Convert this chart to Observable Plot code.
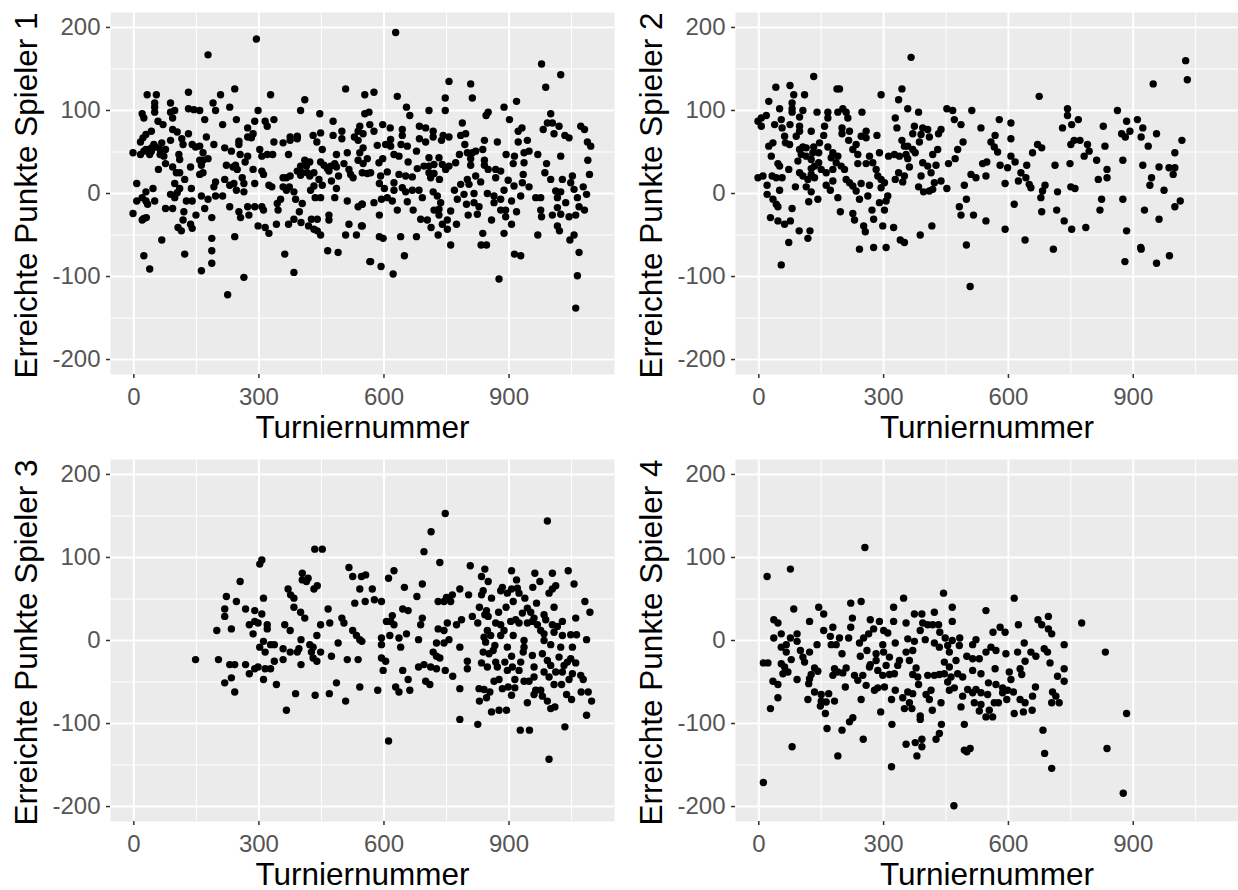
<!DOCTYPE html>
<html><head><meta charset="utf-8">
<script src="https://cdn.jsdelivr.net/npm/d3@7"></script>
<script src="https://cdn.jsdelivr.net/npm/@observablehq/plot@0.6"></script>
<style>
html,body{margin:0;padding:0;background:#fff}
#root{position:relative;width:1238px;height:890px;overflow:hidden}
#root>div{position:absolute}
svg{font-family:"Liberation Sans",Arial,sans-serif}
g[aria-label="x-axis tick label"],g[aria-label="y-axis tick label"]{font-size:24px;fill:#555}
g[aria-label="x-axis label"],g[aria-label="y-axis label"]{font-size:31.5px;fill:#000}
g[aria-label="y-axis label"]{translate:0px 2px}
</style></head><body><div id="root"></div>
<script>
const xTicks=[0,300,600,900];
const yTicks=[-200,-100,0,100,200];
const xMinor=[150,450,750,1050];
const yMinor=[-150,-50,50,150];
const xLabel="Turniernummer";
const yLabels=["Erreichte Punkte Spieler 1","Erreichte Punkte Spieler 2","Erreichte Punkte Spieler 3","Erreichte Punkte Spieler 4"];
const spieler1=[[294,186],[178,167],[32,119],[54,119],[131,122],[208,119],[242,126],[328,119],[410,113],[508,126],[554,119],[88,109],[50,109],[50,104],[50,98],[190,109],[196,100],[230,104],[298,100],[400,100],[446,96],[554,96],[564,98],[98,100],[88,98],[93,91],[131,102],[144,101],[158,100],[20,96],[24,91],[58,87],[70,83],[170,89],[246,89],[213,83],[290,87],[315,87],[320,81],[336,89],[478,87],[273,79],[42,75],[93,77],[104,74],[131,72],[29,71],[22,67],[16,62],[115,66],[88,64],[118,59],[174,68],[192,59],[67,61],[48,59],[42,55],[29,53],[140,59],[158,57],[148,56],[286,72],[273,68],[282,67],[252,63],[252,59],[218,55],[234,51],[302,53],[336,62],[358,61],[375,64],[375,68],[392,69],[392,66],[430,70],[448,73],[439,62],[452,53],[478,70],[499,75],[499,66],[542,81],[538,75],[529,68],[538,64],[550,72],[566,83],[550,55],[542,49],[512,49],[486,47],[-2,49],[16,47],[24,51],[38,47],[42,51],[52,56],[63,53],[76,53],[63,47],[72,45],[108,47],[110,41],[166,49],[178,42],[158,40],[166,40],[273,45],[267,38],[255,47],[307,45],[320,47],[333,47],[371,47],[76,36],[93,32],[59,29],[136,32],[162,34],[166,25],[158,23],[110,25],[102,25],[222,34],[244,34],[238,32],[248,29],[286,29],[307,27],[311,23],[410,40],[422,38],[400,33],[414,33],[392,27],[404,25],[416,25],[432,25],[400,22],[422,21],[448,38],[456,34],[464,30],[472,33],[482,36],[486,32],[468,27],[504,36],[516,29],[520,23],[526,19],[491,21],[474,15],[444,17],[452,10],[432,9],[424,4],[486,6],[538,40],[550,36],[548,25],[560,24],[568,25],[122,17],[98,12],[110,6],[104,1],[88,-1],[98,-5],[138,6],[7,12],[29,2],[46,6],[162,-3],[178,-7],[196,14],[192,8],[196,-3],[213,-3],[218,17],[230,10],[240,12],[246,4],[264,2],[260,19],[264,12],[290,12],[324,10],[331,8],[358,19],[375,21],[366,19],[358,8],[373,8],[366,4],[384,2],[388,-7],[352,-7],[344,-12],[346,-20],[404,-12],[397,-22],[435,-5],[448,-5],[482,-5],[512,-9],[538,-16],[547,-13],[7,-9],[20,-5],[29,-9],[33,-13],[50,-9],[76,-18],[93,-18],[126,-9],[140,-9],[-2,-24],[20,-32],[30,-29],[24,-30],[120,-22],[118,-32],[149,-26],[170,-18],[187,-29],[230,-16],[252,-22],[256,-29],[273,-16],[276,-26],[290,-16],[307,-16],[311,-20],[298,-39],[315,-41],[324,-48],[342,-37],[371,-37],[384,-31],[401,-35],[426,-31],[440,-31],[419,-39],[432,-43],[440,-45],[448,-50],[468,-26],[468,-32],[516,-37],[546,-39],[508,-50],[534,-50],[106,-41],[114,-45],[136,-37],[140,-42],[67,-56],[187,-54],[242,-52],[24,-75],[38,-91],[122,-73],[187,-69],[187,-84],[162,-93],[264,-101],[225,-122],[362,-73],[384,-95],[465,-69],[490,-71],[566,-82],
[628,194],[978,156],[1024,143],[988,128],[756,135],[808,132],[576,122],[632,117],[747,115],[812,115],[888,104],[918,111],[654,104],[662,94],[708,100],[747,100],[850,98],[845,94],[901,89],[1000,96],[597,83],[615,79],[576,75],[644,77],[644,70],[685,81],[700,79],[718,75],[718,68],[742,70],[756,68],[738,64],[685,66],[700,62],[788,85],[784,70],[796,72],[794,59],[841,64],[872,62],[931,79],[922,75],[922,62],[944,64],[982,77],[992,85],[1004,85],[1020,81],[1008,72],[1034,70],[1044,67],[1072,81],[1081,77],[1088,62],[1096,57],[584,58],[604,59],[616,65],[616,57],[641,59],[656,57],[678,51],[624,47],[636,45],[658,38],[597,42],[588,37],[560,42],[608,26],[592,21],[636,23],[652,21],[668,20],[708,43],[732,43],[696,33],[708,33],[720,35],[680,30],[708,25],[720,24],[740,35],[748,29],[756,33],[772,37],[781,47],[800,49],[820,51],[837,53],[812,49],[808,42],[808,34],[841,40],[841,34],[850,29],[868,29],[880,27],[868,19],[893,47],[913,45],[910,36],[936,49],[948,51],[936,37],[969,47],[1024,45],[990,36],[986,25],[1000,17],[1089,40],[1093,23],[934,23],[712,19],[733,17],[624,13],[589,12],[601,6],[624,4],[644,7],[652,2],[668,4],[684,4],[692,-5],[718,2],[728,-3],[784,11],[800,17],[804,11],[820,21],[832,14],[816,0],[769,4],[792,-1],[776,-7],[848,0],[864,-3],[880,-7],[888,4],[898,16],[912,9],[928,-3],[932,13],[948,8],[964,-5],[976,-5],[906,-9],[864,-11],[1028,17],[1052,21],[1048,13],[1078,8],[1056,5],[1012,3],[1024,2],[1016,-5],[1036,-11],[1064,-5],[1086,-1],[576,-11],[594,-7],[608,-5],[620,-9],[656,-10],[670,-20],[632,-20],[589,-26],[720,-20],[736,-11],[732,-19],[732,-26],[760,-21],[798,-13],[816,-11],[828,-16],[824,-25],[802,-26],[858,-32],[880,-20],[892,-20],[892,-28],[918,-22],[906,-37],[976,-20],[978,-28],[1004,-26],[1016,-17],[1024,-25],[1044,-28],[1060,-26],[1068,-16],[1081,-20],[688,-31],[704,-32],[713,-41],[752,-32],[740,-37],[752,-43],[774,-37],[730,-50],[548,-13],[548,-39],[589,-52],[598,-54],[640,-52],[678,-52],[760,-62],[837,-48],[888,-48],[969,-50],[1016,-39],[1021,-45],[1056,-50],[1046,-56],[833,-62],[846,-62],[913,-73],[928,-75],[1068,-71],[568,-82],[593,-88],[649,-75],[622,-97],[876,-103],[1064,-99],[1060,-138]];
const spieler2=[[366,164],[1026,160],[1030,137],[948,132],[132,141],[41,128],[75,130],[84,119],[110,119],[188,126],[194,126],[294,119],[344,126],[336,113],[674,117],[24,111],[50,102],[80,109],[80,102],[80,98],[106,100],[140,98],[166,98],[190,98],[202,102],[210,98],[248,98],[358,102],[384,98],[452,102],[466,100],[512,100],[742,102],[742,94],[862,100],[-2,87],[6,91],[18,94],[6,81],[54,89],[98,92],[75,83],[38,83],[56,79],[98,81],[98,75],[166,91],[158,81],[214,91],[200,79],[200,72],[218,75],[328,91],[332,79],[470,89],[486,83],[534,79],[578,89],[606,85],[768,89],[752,83],[730,79],[828,81],[884,87],[910,89],[923,79],[892,75],[872,72],[881,68],[919,68],[956,72],[126,75],[156,70],[62,69],[90,69],[64,61],[74,59],[34,61],[24,57],[146,61],[132,56],[106,56],[258,75],[246,69],[258,67],[284,70],[216,64],[234,59],[226,53],[238,47],[374,81],[394,79],[406,77],[370,72],[390,71],[410,68],[438,77],[432,72],[344,64],[350,57],[386,62],[370,53],[358,57],[491,62],[478,53],[430,53],[418,47],[472,42],[456,36],[426,34],[30,45],[46,36],[50,33],[72,29],[98,53],[114,55],[102,47],[94,39],[114,45],[130,49],[144,49],[126,41],[144,37],[134,33],[150,29],[162,25],[126,30],[98,25],[106,21],[118,17],[126,23],[134,19],[166,56],[178,49],[190,45],[174,43],[186,37],[178,29],[198,33],[206,29],[238,36],[258,36],[266,45],[290,49],[274,37],[282,29],[286,21],[294,17],[312,45],[326,47],[338,45],[354,47],[358,42],[362,32],[376,49],[394,37],[406,33],[414,25],[390,21],[336,25],[350,21],[328,17],[346,14],[-2,19],[10,21],[32,21],[42,19],[56,19],[20,10],[88,8],[114,8],[162,10],[178,15],[172,4],[210,17],[218,13],[226,9],[234,3],[246,12],[266,10],[302,13],[294,7],[384,8],[396,2],[410,3],[418,5],[422,13],[438,15],[452,6],[494,10],[510,23],[522,19],[546,21],[538,36],[548,38],[580,34],[598,31],[606,45],[616,38],[644,34],[658,49],[670,59],[680,55],[606,66],[568,70],[558,62],[566,56],[574,50],[712,34],[748,36],[750,59],[758,64],[772,64],[790,59],[794,51],[782,45],[812,40],[832,57],[837,29],[816,17],[837,19],[875,40],[936,57],[923,34],[962,32],[986,31],[1000,31],[996,23],[1000,49],[1017,64],[944,19],[940,10],[974,4],[1013,-9],[1000,-16],[630,25],[642,19],[650,11],[654,7],[624,15],[592,12],[688,10],[682,3],[678,-5],[718,2],[750,8],[760,6],[716,-20],[680,-22],[614,-13],[824,-7],[820,-20],[875,-7],[927,-20],[962,-31],[20,-1],[50,4],[34,-7],[42,-13],[46,-16],[126,2],[80,-18],[120,-10],[142,-7],[190,-5],[196,-22],[226,-24],[230,-32],[242,-7],[262,-3],[310,-3],[306,-9],[290,-11],[272,-20],[302,-20],[276,-31],[28,-29],[46,-33],[62,-37],[76,-33],[97,-45],[123,-45],[118,-54],[72,-59],[252,-39],[256,-46],[298,-39],[324,-41],[416,-39],[388,-50],[340,-56],[350,-59],[306,-65],[276,-65],[242,-67],[54,-86],[482,-16],[499,-7],[486,-26],[516,-26],[546,-33],[592,-43],[640,-56],[499,-62],[508,-112],[708,-67],[734,-33],[752,-43],[786,-41],[884,-45],[918,-65],[919,-67],[880,-82],[956,-84],[987,-75]];
const spieler3=[[148,-23],[199,12],[203,-23],[218,38],[218,29],[222,53],[234,14],[230,-29],[242,-29],[234,-45],[218,-51],[242,-62],[255,71],[246,47],[268,38],[268,-29],[277,19],[290,23],[298,21],[286,8],[290,36],[307,32],[311,51],[307,97],[302,92],[320,19],[320,14],[311,-1],[302,-8],[315,-14],[328,-5],[337,-5],[358,-10],[277,-40],[290,-34],[298,-32],[315,-34],[328,-34],[337,-25],[358,-23],[311,-47],[342,-53],[388,-64],[366,-84],[435,-66],[469,-64],[486,-51],[508,-73],[542,-56],[585,-60],[628,-56],[636,-62],[662,-60],[658,-47],[611,-121],[434,110],[452,110],[404,81],[404,73],[418,75],[414,71],[440,66],[432,62],[370,62],[376,55],[384,51],[384,40],[400,34],[410,27],[362,19],[375,12],[401,1],[396,-10],[392,-14],[375,-14],[401,-29],[422,-5],[430,-8],[426,-14],[430,-21],[439,-25],[448,-14],[474,-19],[490,-3],[439,6],[448,19],[470,21],[466,38],[499,27],[504,21],[516,88],[525,77],[546,77],[556,79],[542,62],[572,62],[530,45],[555,47],[577,49],[594,47],[525,12],[534,6],[542,1],[547,-1],[512,-23],[538,-23],[594,3],[594,-5],[614,6],[636,3],[654,8],[640,-8],[594,-21],[604,-25],[598,-36],[645,-36],[606,23],[620,30],[616,23],[624,19],[611,75],[624,84],[649,64],[679,53],[692,68],[645,38],[658,36],[692,27],[688,19],[683,1],[747,153],[713,131],[696,107],[734,94],[683,-32],[696,-29],[712,-32],[726,-34],[747,-36],[765,-43],[700,-49],[710,-53],[718,-14],[726,-19],[734,-21],[726,-3],[744,-3],[756,1],[730,14],[744,12],[752,21],[730,47],[744,47],[760,47],[750,52],[764,55],[782,62],[803,55],[786,25],[774,19],[812,29],[825,21],[782,-8],[800,-25],[800,-34],[782,-58],[782,-95],[825,-101],[807,90],[842,86],[834,77],[850,71],[838,60],[834,55],[858,51],[829,40],[846,36],[842,31],[850,29],[875,34],[893,40],[910,47],[906,84],[918,73],[884,64],[880,60],[896,57],[906,62],[920,63],[924,57],[962,81],[974,71],[957,64],[1004,81],[1042,84],[1056,68],[1012,66],[1004,62],[996,57],[938,51],[966,45],[1008,40],[1082,47],[1094,34],[1060,27],[932,33],[944,39],[952,34],[960,27],[984,31],[988,25],[868,21],[880,19],[904,23],[916,25],[924,21],[944,21],[956,23],[968,19],[976,12],[848,12],[856,6],[840,4],[844,-2],[888,12],[880,6],[910,6],[984,8],[1004,19],[1028,23],[1016,17],[1008,10],[1028,6],[1048,7],[1062,7],[1086,1],[936,0],[936,-8],[984,0],[1000,-5],[1024,-8],[1052,-8],[896,-8],[866,-6],[862,-12],[838,-14],[852,-16],[906,-19],[934,-14],[956,-18],[980,-16],[1020,-20],[1048,-22],[1040,-26],[1060,-27],[834,-27],[848,-32],[868,-26],[872,-32],[890,-26],[896,-36],[908,-32],[928,-26],[924,-36],[960,-32],[992,-24],[1000,-30],[1012,-38],[1028,-38],[1032,-30],[1052,-40],[1072,-42],[1078,-47],[1044,-47],[984,-38],[996,-44],[1008,-53],[1026,-53],[914,-47],[936,-49],[948,-49],[960,-44],[864,-49],[876,-47],[884,-58],[898,-56],[914,-57],[828,-58],[840,-59],[854,-62],[846,-69],[829,-73],[906,-66],[964,-60],[976,-60],[960,-65],[980,-67],[992,-73],[944,-75],[1000,-82],[1010,-80],[1038,-65],[1050,-71],[1073,-62],[1090,-62],[1098,-73],[858,-86],[876,-84],[894,-84],[1086,-90],[1034,-104],[927,-108],[949,-108],[996,-143],[992,144]];
const spieler4=[[255,112],[76,86],[20,77],[11,-171],[469,-199],[876,-184],[884,-88],[837,-130],[833,-14],[776,21],[704,-154],[687,-136],[683,-108],[614,51],[444,57],[348,51],[246,47],[221,45],[144,40],[84,38],[324,40],[465,40],[546,36],[156,32],[374,32],[392,32],[422,34],[225,27],[268,25],[290,23],[324,23],[465,23],[354,21],[36,25],[46,21],[122,23],[696,29],[671,25],[680,19],[624,19],[580,16],[563,10],[592,10],[696,14],[704,8],[394,21],[406,19],[418,19],[432,19],[178,16],[221,16],[156,12],[276,14],[300,12],[310,9],[388,12],[435,10],[36,3],[54,8],[76,3],[92,8],[92,-1],[172,5],[194,3],[216,3],[264,8],[252,3],[242,-3],[358,2],[374,-1],[400,1],[448,3],[465,0],[483,3],[522,1],[514,-5],[638,-3],[734,-5],[140,-5],[54,-8],[66,-5],[66,-14],[100,-12],[122,-14],[174,-5],[186,-5],[200,-16],[244,-19],[260,-12],[328,-3],[298,-5],[282,-16],[300,-14],[314,-20],[354,-14],[370,-12],[422,-3],[434,-8],[454,-6],[482,-6],[458,-14],[558,-8],[570,-12],[546,-14],[594,-16],[622,-14],[654,-14],[666,-19],[686,-10],[694,-14],[500,-19],[514,-22],[530,-22],[78,-23],[106,-20],[110,-26],[11,-27],[22,-27],[54,-28],[62,-32],[640,-25],[700,-27],[734,-34],[568,-34],[474,-24],[446,-26],[458,-32],[338,-24],[362,-24],[334,-30],[282,-24],[268,-29],[306,-30],[58,-40],[70,-38],[134,-33],[142,-37],[126,-41],[92,-47],[122,-46],[120,-52],[182,-34],[190,-38],[210,-33],[202,-39],[178,-42],[230,-42],[238,-48],[250,-42],[286,-36],[298,-42],[314,-41],[326,-40],[266,-32],[378,-33],[370,-41],[382,-44],[406,-42],[422,-42],[434,-41],[446,-40],[462,-44],[478,-40],[490,-44],[514,-36],[534,-40],[602,-38],[606,-47],[628,-34],[632,-41],[718,-43],[734,-49],[34,-49],[46,-53],[384,-53],[454,-50],[552,-51],[570,-53],[208,-56],[258,-54],[278,-60],[286,-57],[302,-56],[328,-60],[458,-60],[470,-57],[502,-59],[522,-59],[534,-63],[586,-57],[586,-63],[598,-60],[612,-62],[665,-56],[134,-62],[168,-64],[150,-65],[358,-62],[370,-64],[414,-60],[402,-65],[490,-67],[514,-63],[550,-65],[658,-67],[706,-62],[714,-67],[46,-69],[28,-82],[118,-71],[150,-73],[162,-74],[182,-73],[148,-79],[246,-71],[319,-71],[346,-69],[410,-71],[438,-75],[362,-75],[350,-82],[368,-82],[417,-84],[486,-80],[518,-75],[534,-77],[566,-75],[576,-75],[596,-71],[628,-71],[640,-75],[704,-75],[722,-75],[554,-84],[530,-85],[160,-88],[293,-86],[388,-91],[388,-95],[546,-92],[562,-92],[614,-88],[636,-86],[657,-84],[226,-93],[218,-98],[164,-106],[200,-108],[320,-101],[439,-101],[494,-101],[434,-112],[426,-119],[251,-119],[392,-119],[376,-123],[354,-125],[392,-128],[508,-130],[494,-132],[500,-134],[80,-128],[190,-139],[380,-139],[319,-152]];

function panel(data,label,left,top){
  const chart=Plot.plot({
    width:left?613:625,height:445,
    marginLeft:110,marginRight:left?0:11,marginTop:12,marginBottom:71,
    x:{domain:[-56,1153]},
    y:{domain:[-218,218]},
    marks:[
      Plot.frame({fill:"#EBEBEB",stroke:"none"}),
      Plot.gridX(xMinor,{stroke:"#fff",strokeOpacity:1,strokeWidth:1}),
      Plot.gridY(yMinor,{stroke:"#fff",strokeOpacity:1,strokeWidth:1}),
      Plot.gridX(xTicks,{stroke:"#fff",strokeOpacity:1,strokeWidth:2}),
      Plot.gridY(yTicks,{stroke:"#fff",strokeOpacity:1,strokeWidth:2}),
      Plot.dot(data,{x:d=>d[0],y:d=>d[1],r:3.7,fill:"#000",stroke:"none"}),
      Plot.axisX(xTicks,{tickSize:4,tickPadding:9,stroke:"#333",strokeWidth:1.5,label:xLabel,labelAnchor:"center",labelArrow:false,labelOffset:63,tickFormat:d=>String(d)}),
      Plot.axisY(yTicks,{tickSize:4,tickPadding:6,stroke:"#333",strokeWidth:1.5,label,labelAnchor:"center",labelArrow:false,labelOffset:96,tickFormat:d=>String(d)})
    ]
  });
  const d=document.createElement("div");
  d.style.left=left+"px";d.style.top=top+"px";
  d.appendChild(chart);
  document.getElementById("root").appendChild(d);
}
panel(spieler1,yLabels[0],0,0);
panel(spieler2,yLabels[1],625,0);
panel(spieler3,yLabels[2],0,447);
panel(spieler4,yLabels[3],625,447);
</script></body></html>
